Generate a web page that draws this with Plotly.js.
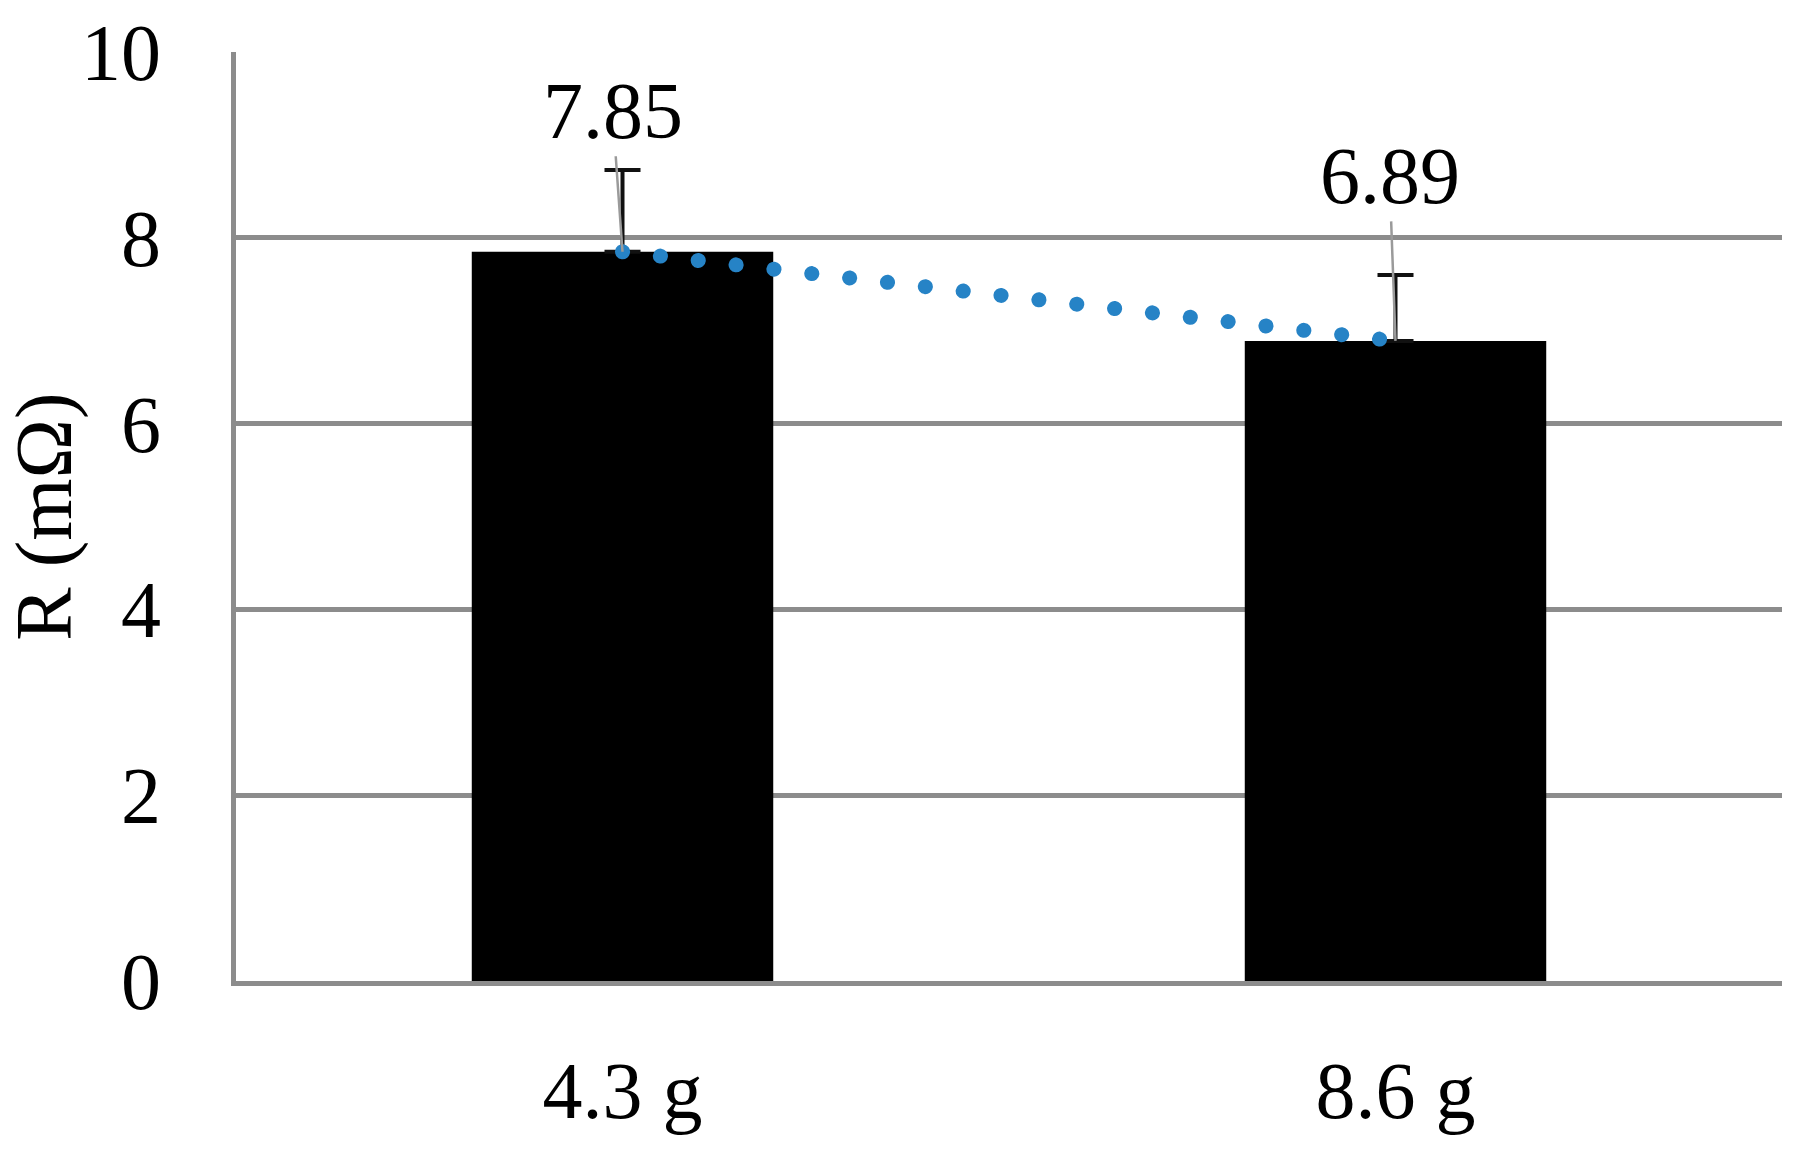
<!DOCTYPE html>
<html>
<head>
<meta charset="utf-8">
<script src="https://cdn.plot.ly/plotly-3.0.1.min.js"></script>
<style>
  body { margin: 0; background: #fff; }
  /* round caps turn the tiny dashes into dots, like the Excel trendline */
  .scatterlayer path.js-line { stroke-linecap: round !important; }
</style>
</head>
<body>
<div id="chart" style="width:1806px;height:1155px;"></div>
<script>
// chart data
var categories = ['4.3 g', '8.6 g'];
var resistance = [7.85, 6.89];      // mOhm
var errorUp = [0.88, 0.71];         // upper error bar only
var valueLabels = ['7.85', '6.89'];
var yTicks = [0, 2, 4, 6, 8, 10];

// label offsets above bar tops (px), styling only
var labelOffsets = [-141, -165];
var labelShiftX = [-10, -6];

var gridColor = '#8c8c8c';
var fontFam = '"Liberation Serif", "Times New Roman", serif';

var bars = {
  x: categories,
  y: resistance,
  type: 'bar',
  marker: { color: '#000000', line: { width: 0 } },
  error_y: {
    type: 'data',
    symmetric: false,
    array: errorUp,
    arrayminus: [0, 0],
    color: '#111111',
    thickness: 4,
    width: 18
  },
  hoverinfo: 'skip'
};

// linear trend through the two bar tops, dotted blue
var trend = {
  x: categories,
  y: resistance,
  type: 'scatter',
  mode: 'lines',
  line: { color: '#2683c6', width: 15, dash: '0.1px,38px' },
  hoverinfo: 'skip'
};

var annotations = [];
for (var i = 0; i < categories.length; i++) {
  annotations.push({
    x: categories[i],
    y: resistance[i],
    xref: 'x',
    yref: 'y',
    text: valueLabels[i],
    showarrow: true,
    arrowhead: 0,
    arrowwidth: 2.5,
    arrowcolor: '#9a9a9a',
    standoff: 0,
    ax: labelShiftX[i],
    ay: labelOffsets[i],
    font: { family: fontFam, size: 80, color: '#000' }
  });
}

var layout = {
  width: 1806,
  height: 1155,
  margin: { l: 236, r: 24, t: 52, b: 174 },
  paper_bgcolor: '#ffffff',
  plot_bgcolor: '#ffffff',
  showlegend: false,
  bargap: 0.61,
  font: { family: fontFam, size: 80, color: '#000' },
  xaxis: {
    type: 'category',
    showgrid: false,
    showline: true,
    linecolor: gridColor,
    linewidth: 5,
    ticks: '',
    ticklabelstandoff: 36,
    tickfont: { family: fontFam, size: 80, color: '#000' },
    fixedrange: true
  },
  yaxis: {
    range: [0, 10],
    tickvals: yTicks,
    ticktext: yTicks.map(String),
    showgrid: true,
    gridcolor: gridColor,
    gridwidth: 5,
    zeroline: false,
    showline: true,
    linecolor: gridColor,
    linewidth: 5,
    ticks: '',
    ticklabelstandoff: 54,
    tickfont: { family: fontFam, size: 80, color: '#000' },
    title: {
      text: 'R (mΩ)',
      standoff: 10,
      font: { family: fontFam, size: 80, color: '#000' }
    },
    fixedrange: true
  },
  annotations: annotations
};

Plotly.newPlot('chart', [bars, trend], layout, { displayModeBar: false, staticPlot: true });
</script>
</body>
</html>
